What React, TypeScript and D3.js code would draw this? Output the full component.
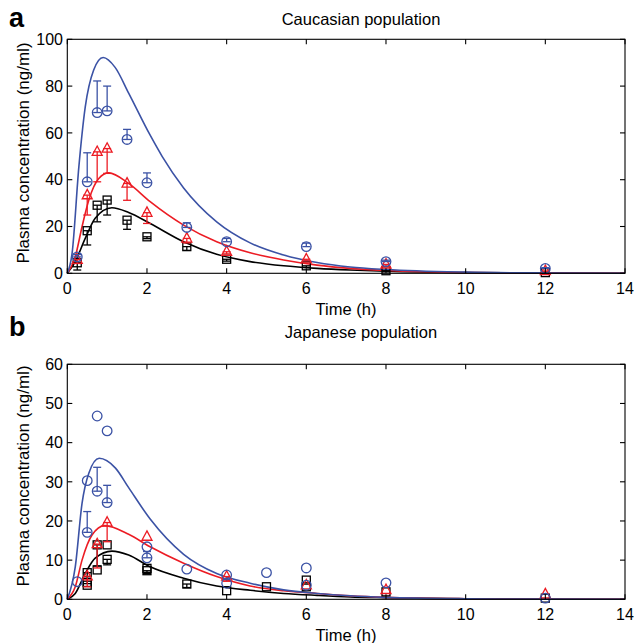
import React from "react";
import * as d3 from "d3";

// ---------- axis ticks ----------
const xTicks = [0, 2, 4, 6, 8, 10, 12, 14];
const yTicksA = [0, 20, 40, 60, 80, 100];
const yTicksB = [0, 10, 20, 30, 40, 50, 60];

// ---------- panel a: Caucasian population, model curves ----------
const curveTA_high = [0, 0.12, 0.29, 0.45, 0.66, 0.9, 1.2, 1.54, 2.08, 2.38, 2.92, 3.75, 4.59, 5.43, 6.27, 7.1, 8, 10, 12, 14];
const curveYA_high = [0, 8.5, 45.5, 71, 86.8, 92.2, 88, 77, 59, 50, 36.5, 22, 13, 7.8, 4.6, 2.7, 1.6, 0.5, 0.15, 0.05];
const curveTA_mid = [0, 0.2, 0.37, 0.54, 0.79, 1.04, 1.54, 2.08, 2.92, 3.75, 4.59, 5.43, 6.27, 7.1, 8, 10, 12, 14];
const curveYA_mid = [0, 7.1, 19.9, 31.3, 40.5, 42.9, 38.4, 30.6, 20.6, 13.5, 8.8, 5.7, 3.5, 2.1, 1.2, 0.3, 0.1, 0];
const curveTA_low = [0, 0.2, 0.45, 0.7, 1.12, 1.54, 2.08, 2.92, 3.75, 4.59, 5.43, 6.27, 7.1, 8, 10, 12, 14];
const curveYA_low = [0, 5, 14.9, 23.5, 28, 26, 21.3, 13.5, 8.1, 5, 3.2, 2.1, 1.4, 0.9, 0.3, 0.1, 0];

// ---------- panel a: observed means with error bar ends ----------
const obsTA = [0.25, 0.5, 0.75, 1, 1.5, 2, 3, 4, 6, 8, 12];
const obsYA_high = [7.0, 39.1, 68.7, 69.4, 57.2, 38.7, 19.6, 13.5, 11.4, 5.0, 2.1];
const errYA_high = [8.0, 51.5, 82.2, 80.0, 61.5, 42.9, 21.6, 14.9, 12.9, 5.6, 2.4];
const obsYA_mid = [5.8, 33.4, 51.9, 53.3, 38.4, 25.9, 14.9, 9.2, 6.0, 3.8, 1.0];
const errYA_mid = [4.2, 24.9, 39.1, 42.7, 31.2, 21.3, 13.0, 8.3, 5.3, 3.0, 0.7];
const obsYA_low = [4.5, 18.2, 29.1, 31.3, 22.7, 15.6, 11.4, 6.0, 3.2, 1.1, 0.3];
const errYA_low = [1.4, 12.1, 22.0, 24.9, 18.8, 14.8, 9.8, 5.2, 2.5, 0.6, 0.1];

// ---------- panel b: Japanese population, model curves ----------
const curveTB_high = [0, 0.2, 0.37, 0.54, 0.8, 1.21, 1.54, 2.08, 2.92, 3.75, 4.59, 5.43, 6.27, 7.1, 8, 10, 12, 14];
const curveYB_high = [0, 8.3, 24.5, 32.2, 36, 33.5, 28.5, 20.5, 11.5, 6.6, 4.1, 2.4, 1.5, 0.9, 0.5, 0.15, 0.05, 0];
const curveTB_mid = [0, 0.2, 0.37, 0.62, 0.94, 1.54, 2.08, 2.92, 3.75, 4.59, 5.43, 6.27, 7.1, 8, 10, 12, 14];
const curveYB_mid = [0, 3.2, 10, 16.4, 18.8, 16.6, 13.4, 9.2, 5.8, 3.4, 2.2, 1.5, 0.9, 0.5, 0.15, 0.05, 0];
const curveTB_low = [0, 0.2, 0.45, 0.7, 1.12, 1.54, 2.08, 2.92, 3.75, 4.59, 5.43, 6.27, 7.1, 8, 10, 12, 14];
const curveYB_low = [0, 1.5, 6.6, 10.5, 12.3, 11.3, 8.3, 5.4, 3.4, 2.3, 1.5, 1.0, 0.6, 0.4, 0.1, 0.03, 0];

// ---------- panel b: observed (several studies), error bar ends (null = none) ----------
const obsTB_high = [0.25, 0.5, 0.5, 0.75, 0.75, 1, 1, 2, 2, 3, 4, 4, 5, 6, 6, 8, 12];
const obsYB_high = [4.5, 17.1, 30.3, 46.8, 27.6, 43.0, 24.7, 13.4, 10.6, 7.7, 6.2, 4.1, 6.8, 8.0, 3.6, 4.2, 0.3];
const errYB_high = [null, 22.4, null, null, 33.7, null, 29.1, null, 12.2, null, null, null, null, null, null, null, null];
const obsTB_mid = [0.5, 0.75, 1, 2, 4, 6, 8, 12];
const obsYB_mid = [5.9, 14.1, 19.6, 16.0, 5.8, 3.6, 2.4, 1.3];
const errYB_mid = [3.2, 8.0, 14.7, null, 4.6, null, null, null];
const obsTB_low = [0.5, 0.5, 0.5, 0.75, 0.75, 1, 1, 2, 2, 3, 4, 5, 6, 6, 8, 12];
const obsYB_low = [3.6, 4.3, 6.8, 13.9, 7.5, 13.9, 10.2, 7.9, 7.3, 3.9, 2.2, 3.2, 4.9, 3.2, 1.9, 0.3];
const errYB_low = [null, null, 4.0, 8.5, null, null, 8.8, null, 6.6, 3.0, null, null, null, null, null, null];

const BLUE = "#3b52a5";
const RED = "#ec1c24";
const BLACK = "#000000";
const FONT = "'Liberation Sans', Arial, Helvetica, sans-serif";

const X0 = 67.3;
const X1 = 625;

type Series = {
  color: string;
  marker: "circle" | "triangle" | "square";
  ct: number[];
  cy: number[];
  ot: number[];
  oy: number[];
  oe: (number | null)[];
};

function Marker({ kind, x, y, color }: { kind: string; x: number; y: number; color: string }) {
  if (kind === "circle") return <circle cx={x} cy={y} r={4.8} fill="none" stroke={color} strokeWidth={1.3} />;
  if (kind === "square") return <rect x={x - 4} y={y - 4} width={8} height={8} fill="none" stroke={color} strokeWidth={1.3} />;
  return <path d={`M${x},${y - 5.8}L${x + 5},${y + 3.6}L${x - 5},${y + 3.6}Z`} fill="none" stroke={color} strokeWidth={1.3} />;
}

function Panel({
  top, bottom, yMax, yTicks, title, letter, titleY, letterY, series, ylabelY,
}: {
  top: number; bottom: number; yMax: number; yTicks: number[]; title: string; letter: string;
  titleY: number; letterY: number; series: Series[]; ylabelY: number;
}) {
  const x = d3.scaleLinear().domain([0, 14]).range([X0, X1]);
  const y = d3.scaleLinear().domain([0, yMax]).range([bottom, top]);
  const line = d3.line<[number, number]>().x((d) => x(d[0])).y((d) => y(d[1])).curve(d3.curveMonotoneX);
  const tl = 5;
  const cap = 4;
  return (
    <g fontFamily={FONT}>
      <text x={9} y={letterY} fontSize={27} fontWeight="bold">{letter}</text>
      <text x={361} y={titleY} fontSize={16.5} textAnchor="middle">{title}</text>
      {series.map((s, i) => (
        <path key={"c" + i} d={line(s.ct.map((t, j) => [t, s.cy[j]] as [number, number])) || ""} fill="none" stroke={s.color} strokeWidth={1.6} />
      ))}
      {series.map((s, i) => (
        <g key={"o" + i}>
          {s.ot.map((t, j) => {
            const cx = x(t);
            const cy = y(s.oy[j]);
            const e = s.oe[j];
            return (
              <g key={j}>
                {e !== null && e !== undefined && (
                  <g stroke={s.color} strokeWidth={1.3}>
                    <line x1={cx} x2={cx} y1={cy} y2={y(e)} />
                    <line x1={cx - cap} x2={cx + cap} y1={cy} y2={cy} />
                    <line x1={cx - cap} x2={cx + cap} y1={y(e)} y2={y(e)} />
                  </g>
                )}
                <Marker kind={s.marker} x={cx} y={cy} color={s.color} />
              </g>
            );
          })}
        </g>
      ))}
      <rect x={X0} y={top} width={X1 - X0} height={bottom - top} fill="none" stroke="#000" strokeWidth={1.1} />
      {xTicks.map((t) => (
        <g key={"xt" + t}>
          <line x1={x(t)} x2={x(t)} y1={bottom} y2={bottom - tl} stroke="#000" strokeWidth={1.1} />
          <line x1={x(t)} x2={x(t)} y1={top} y2={top + tl} stroke="#000" strokeWidth={1.1} />
          <text x={x(t)} y={bottom + 20.5} fontSize={16} textAnchor="middle">{t}</text>
        </g>
      ))}
      {yTicks.map((t) => (
        <g key={"yt" + t}>
          <line x1={X0} x2={X0 + tl} y1={y(t)} y2={y(t)} stroke="#000" strokeWidth={1.1} />
          <line x1={X1} x2={X1 - tl} y1={y(t)} y2={y(t)} stroke="#000" strokeWidth={1.1} />
          <text x={63} y={y(t) + 5.7} fontSize={16} textAnchor="end">{t}</text>
        </g>
      ))}
      <text x={346} y={bottom + 42} fontSize={16.5} textAnchor="middle">Time (h)</text>
      <text transform={`translate(28.5,${ylabelY}) rotate(-90)`} fontSize={17} textAnchor="middle">Plasma concentration (ng/ml)</text>
    </g>
  );
}

export default function App() {
  const seriesA: Series[] = [
    { color: BLACK, marker: "square", ct: curveTA_low, cy: curveYA_low, ot: obsTA, oy: obsYA_low, oe: errYA_low },
    { color: RED, marker: "triangle", ct: curveTA_mid, cy: curveYA_mid, ot: obsTA, oy: obsYA_mid, oe: errYA_mid },
    { color: BLUE, marker: "circle", ct: curveTA_high, cy: curveYA_high, ot: obsTA, oy: obsYA_high, oe: errYA_high },
  ];
  const seriesB: Series[] = [
    { color: BLACK, marker: "square", ct: curveTB_low, cy: curveYB_low, ot: obsTB_low, oy: obsYB_low, oe: errYB_low },
    { color: RED, marker: "triangle", ct: curveTB_mid, cy: curveYB_mid, ot: obsTB_mid, oy: obsYB_mid, oe: errYB_mid },
    { color: BLUE, marker: "circle", ct: curveTB_high, cy: curveYB_high, ot: obsTB_high, oy: obsYB_high, oe: errYB_high },
  ];
  return (
    <svg width={634} height={643} style={{ position: "absolute", left: 0, top: 0, background: "#fff" }}>
      <Panel top={39.3} bottom={273.3} yMax={100} yTicks={yTicksA} title="Caucasian population" letter="a"
        titleY={25} letterY={27} series={seriesA} ylabelY={153} />
      <Panel top={364.3} bottom={599.3} yMax={60} yTicks={yTicksB} title="Japanese population" letter="b"
        titleY={338} letterY={336} series={seriesB} ylabelY={476} />
    </svg>
  );
}
